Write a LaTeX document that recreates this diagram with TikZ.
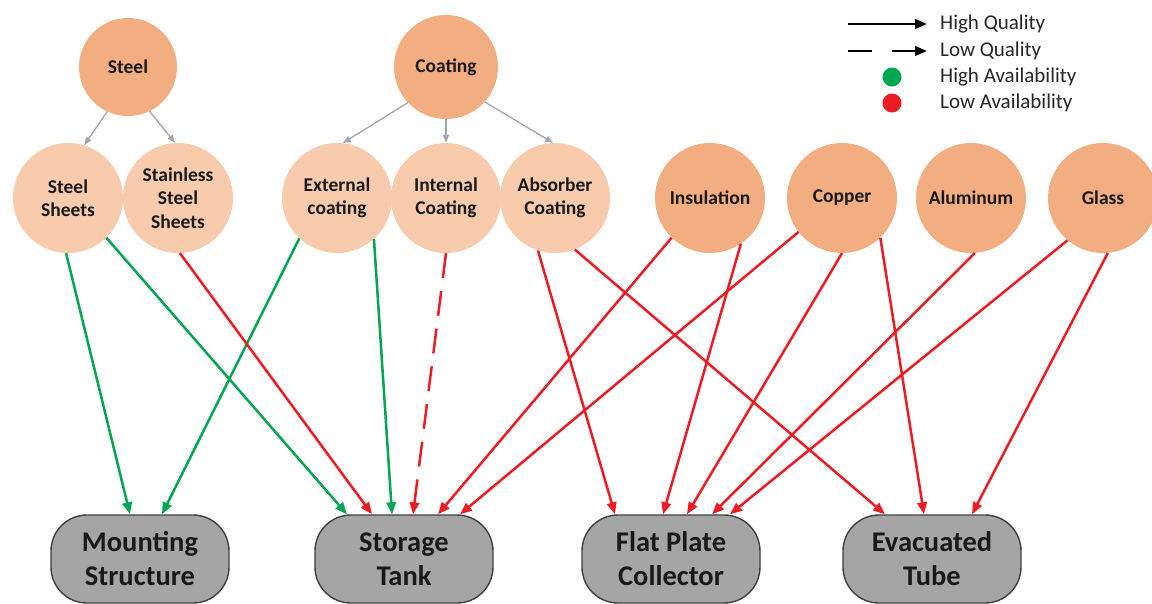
\documentclass[tikz,border=0pt]{standalone}
\usepackage{fontspec}
\setmainfont{Carlito}
\usetikzlibrary{arrows.meta}
\definecolor{peachdark}{HTML}{F2AD80}
\definecolor{peachlight}{HTML}{F8CBAD}
\definecolor{boxgray}{HTML}{A5A5A5}
\definecolor{boxline}{HTML}{404040}
\definecolor{hgreen}{RGB}{0,166,81}
\definecolor{lred}{RGB}{237,28,36}
\definecolor{linkgray}{RGB}{160,166,176}
\tikzset{
  topcirc/.style={circle, fill=peachdark, inner sep=0pt, align=center,
    font=\fontsize{19.5}{23}\selectfont\bfseries, text=black!90},
  subcirc/.style={circle, fill=peachlight, inner sep=0pt, minimum size=110pt, align=center,
    font=\fontsize{19.5}{23.5}\selectfont\bfseries, text=black!90},
  prodbox/.style={rectangle, rounded corners=36pt, fill=boxgray, draw=boxline, line width=1.4pt,
    minimum width=178pt, minimum height=88pt, align=center,
    font=\fontsize{28.5}{34}\selectfont\bfseries, text=black!90},
  sublink/.style={draw=linkgray, line width=1.3pt, -{Triangle[length=8pt,width=6pt]}},
  greenlink/.style={draw=hgreen, line width=2.5pt, -{Triangle[length=12pt,width=9.5pt]}},
  redlink/.style={draw=lred, line width=2.5pt, -{Triangle[length=12pt,width=9.5pt]}},
  reddash/.style={redlink, dash pattern=on 25pt off 13pt},
  legtext/.style={anchor=west, inner sep=0pt, font=\fontsize{21}{24}\selectfont, text=black!85},
  legline/.style={draw=black, line width=2.5pt, -{Triangle[length=12pt,width=9.5pt]}},
  legdot/.style={circle, inner sep=0pt, minimum size=19pt}
}
\begin{document}
\begin{tikzpicture}[x=1pt,y=-1pt]
\useasboundingbox[fill=white] (0,0) rectangle (1152,603);

% top-level materials
\node[topcirc, minimum size=98pt] (steel) at (128,67) {Steel};
\node[topcirc, minimum size=104pt] (coat) at (446,67) {Coating};

% second row
\node[subcirc] (ss)  at (68,198)  {Steel\\Sheets};
\node[subcirc] (sss) at (178,198) {Stainless\\Steel\\Sheets};
\node[subcirc] (ext) at (337,198) {External\\coating};
\node[subcirc] (int) at (446,198) {Internal\\Coating};
\node[subcirc] (abs) at (555,198) {Absorber\\Coating};
\node[topcirc, minimum size=110pt] (ins) at (710,198) {Insulation};
\node[topcirc, minimum size=110pt] (cu)  at (842,198) {Copper};
\node[topcirc, minimum size=110pt] (al)  at (971,198) {Aluminum};
\node[topcirc, minimum size=110pt] (gl)  at (1103,198) {Glass};

% products
\node[prodbox] (mt)  at (140,559) {Mounting\\Structure};
\node[prodbox] (st)  at (404,559) {Storage\\Tank};
\node[prodbox] (fpc) at (671,559) {Flat Plate\\Collector};
\node[prodbox] (et)  at (932,559) {Evacuated\\Tube};

% material -> sub-material
\draw[sublink] (steel.-115) -- (ss.73);
\draw[sublink] (steel.-64) -- (sss.93);
\draw[sublink] (coat.-137) -- (ext.84);
\draw[sublink] (coat.south) -- (int.north);
\draw[sublink] (coat.-42) -- (abs.92);

% green links
\draw[greenlink] (ss.-92) -- ([xshift=-10pt]mt.north);
\draw[greenlink] (ext.-133) -- ([xshift=22pt]mt.north);
\draw[greenlink] (ss.-46) -- ([xshift=-57pt]st.north);
\draw[greenlink] (ext.-48) -- ([xshift=-12pt]st.north);

% red links
\draw[redlink] (sss.-88) -- ([xshift=-32pt]st.north);
\draw[reddash] (int.south) -- ([xshift=9pt]st.north);
\draw[redlink] (ins.-134) -- ([xshift=34pt]st.north);
\draw[redlink] (cu.-142) -- ([xshift=56pt]st.north);

\draw[redlink] (abs.-108) -- ([xshift=-56pt]fpc.north);
\draw[redlink] (ins.-56) -- ([xshift=-8pt]fpc.north);
\draw[redlink] (cu.-90) -- ([xshift=16pt]fpc.north);
\draw[redlink] (al.-86) -- ([xshift=41pt]fpc.north);
\draw[redlink] (gl.-130) -- ([xshift=59pt]fpc.north);

\draw[redlink] (abs.-69) -- ([xshift=-47pt]et.north);
\draw[redlink] (cu.-46) -- ([xshift=-8pt]et.north);
\draw[redlink] (gl.-85) -- ([xshift=40pt]et.north);

% legend
\coordinate (hqa) at (848,24);
\coordinate (hqb) at (927,24);
\coordinate (lqa) at (848,51);
\coordinate (lqb) at (927,51);
\draw[legline] (hqa) -- (hqb);
\draw[legline, dash pattern=on 24pt off 20pt] (lqa) -- (lqb);
\node[legdot, fill=hgreen] (hadot) at (892,77) {};
\node[legdot, fill=lred] (ladot) at (892,103) {};
\node[legtext] (hqt) at (940,24) {High Quality};
\node[legtext] (lqt) at (940,51) {Low Quality};
\node[legtext] (hat) at (940,77) {High Availability};
\node[legtext] (lat) at (940,103) {Low Availability};
\end{tikzpicture}
\end{document}
